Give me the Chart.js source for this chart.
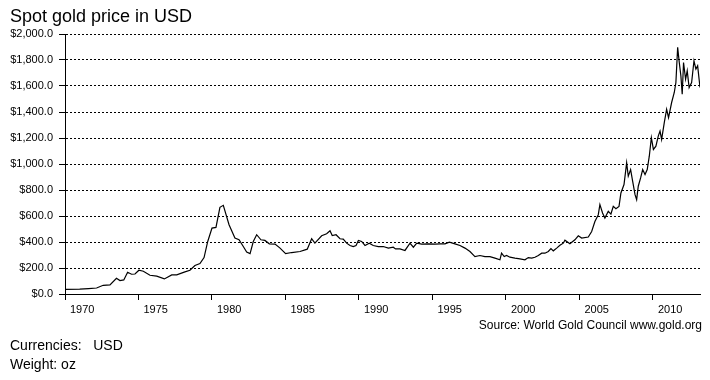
<!DOCTYPE html>
<html><head><meta charset="utf-8">
<script src="https://cdn.jsdelivr.net/npm/chart.js@4/dist/chart.umd.min.js"></script>
<style>
html,body{margin:0;padding:0;background:#fff;}
#wrap{position:relative;width:710px;height:380px;overflow:hidden;font-family:"Liberation Sans",Arial,sans-serif;color:#000;}
canvas{position:absolute;left:0;top:0;}
.t{position:absolute;white-space:pre;line-height:1;}
</style></head><body>
<div id="wrap">
<canvas id="c" width="710" height="380"></canvas>
<div class="t" style="left:10px;top:7px;font-size:18px;">Spot gold price in USD</div>
<div class="t" style="right:8px;top:319px;font-size:12px;">Source: World Gold Council www.gold.org</div>
<div class="t" style="left:10px;top:338px;font-size:14px;">Currencies:   USD</div>
<div class="t" style="left:10px;top:357px;font-size:14px;">Weight: oz</div>
</div>
<script>
const years = [
 1970.0,1971.0,1971.6,1972.15,1972.6,1973.06,1973.5,1973.74,1974.0,1974.26,1974.53,1974.76,
 1975.03,1975.33,1975.78,1976.24,1976.76,1977.26,1977.6,1978.16,1978.5,1978.84,1979.18,1979.46,
 1979.71,1980.0,1980.27,1980.54,1980.77,1981.16,1981.56,1981.84,1982.13,1982.36,1982.59,1982.81,
 1983.04,1983.33,1983.6,1983.9,1984.29,1984.63,1985.01,1985.42,1985.99,1986.48,1986.78,1987.0,
 1987.46,1987.8,1988.03,1988.18,1988.44,1988.71,1988.93,1989.16,1989.39,1989.61,1989.8,1989.96,
 1990.18,1990.41,1990.7,1990.97,1991.31,1991.65,1992.0,1992.33,1992.49,1992.79,1993.13,1993.47,
 1993.7,1993.93,1994.27,1994.72,1995.17,1995.51,1995.85,1996.15,1996.53,1996.87,1997.21,1997.55,
 1997.89,1998.23,1998.57,1998.91,1999.25,1999.59,1999.7,1999.88,2000.04,2000.27,2000.61,2000.95,
 2001.29,2001.52,2001.75,2001.97,2002.2,2002.43,2002.65,2002.88,2003.06,2003.22,2003.45,2003.67,
 2003.9,2004.01,2004.35,2004.69,2004.92,2005.15,2005.6,2005.83,2006.05,2006.28,2006.39,2006.57,
 2006.73,2006.96,2007.14,2007.3,2007.48,2007.69,2007.82,2008.03,2008.21,2008.32,2008.48,2008.62,
 2008.78,2008.89,2009.0,2009.16,2009.3,2009.46,2009.61,2009.75,2009.89,2010.03,2010.2,2010.36,
 2010.48,2010.59,2010.77,2010.93,2011.06,2011.27,2011.45,2011.56,2011.68,2011.79,2011.9,2011.99,
 2012.08,2012.22,2012.33,2012.46,2012.63,2012.79,2012.92,2013.04,2013.2
];
const prices = [
 36,38,42,46,67,70,121,103,108,167,152,154,
 183,175,144,137,116,147,147,170,183,219,234,280,
 404,507,512,667,682,533,430,417,365,322,311,404,
 456,417,412,386,384,353,311,319,327,345,425,391,
 448,463,486,450,456,425,422,391,373,365,373,412,
 404,373,391,373,365,365,353,360,347,347,335,391,
 360,391,384,386,384,386,386,399,386,373,353,327,
 288,296,288,288,276,263,314,288,296,283,276,270,
 263,280,276,283,296,314,314,327,350,332,353,375,
 391,414,386,417,448,430,438,481,558,610,687,623,
 584,636,615,674,656,674,777,842,1009,906,957,867,
 764,726,829,893,957,919,957,1060,1202,1112,1137,1215,
 1253,1189,1318,1421,1357,1473,1550,1627,1897,1781,1678,1537,
 1781,1652,1717,1588,1627,1794,1730,1755,1588
];
const xTickValues = [1970,1975,1980,1985,1990,1995,2000,2005,2010];
const xTickLabels = ['1970','1975','1980','1985','1990','1995','2000','2005','2010'];
const yTickValues = [0,200,400,600,800,1000,1200,1400,1600,1800,2000];
const yTickLabels = ['$0.0','$200.0','$400.0','$600.0','$800.0','$1,000.0','$1,200.0','$1,400.0','$1,600.0','$1,800.0','$2,000.0'];

const tickFont = {family:'"Liberation Sans", Arial, sans-serif', size:11};

new Chart(document.getElementById('c'), {
  type: 'line',
  data: {
    datasets: [{
      data: years.map((x, i) => ({x: x, y: prices[i]})),
      borderColor: '#000',
      borderWidth: 1.2,
      pointRadius: 0,
      fill: false,
      tension: 0
    }]
  },
  options: {
    responsive: false,
    animation: false,
    devicePixelRatio: 1,
    layout: {padding: {left: 0, top: 34, right: 10, bottom: 56}},
    plugins: {legend: {display: false}, tooltip: {enabled: false}, title: {display: false}},
    scales: {
      x: {
        type: 'linear', min: 1970, max: 2013.2,
        afterBuildTicks: s => { s.ticks = xTickValues.map(v => ({value: v})); },
        afterFit: s => { s.height = 30; },
        grid: {display: true, drawOnChartArea: false, drawTicks: true, tickLength: 6, tickColor: '#000', tickWidth: 1},
        border: {display: true, color: '#000', width: 1},
        ticks: {align: 'start', labelOffset: 5, padding: 3, color: '#000', font: tickFont,
                maxRotation: 0, autoSkip: false, callback: (v, i) => xTickLabels[i]}
      },
      y: {
        type: 'linear', min: 0, max: 2000,
        afterBuildTicks: s => { s.ticks = yTickValues.map(v => ({value: v})); },
        afterFit: s => { s.width = 65; },
        grid: {color: '#000', lineWidth: 1, drawTicks: true, tickLength: 6, tickColor: '#000', tickWidth: 1},
        border: {display: true, color: '#000', width: 1, dash: [2, 2]},
        ticks: {padding: 6, color: '#000', font: tickFont, autoSkip: false, callback: (v, i) => yTickLabels[i]}
      }
    }
  }
});
</script>
</body></html>
